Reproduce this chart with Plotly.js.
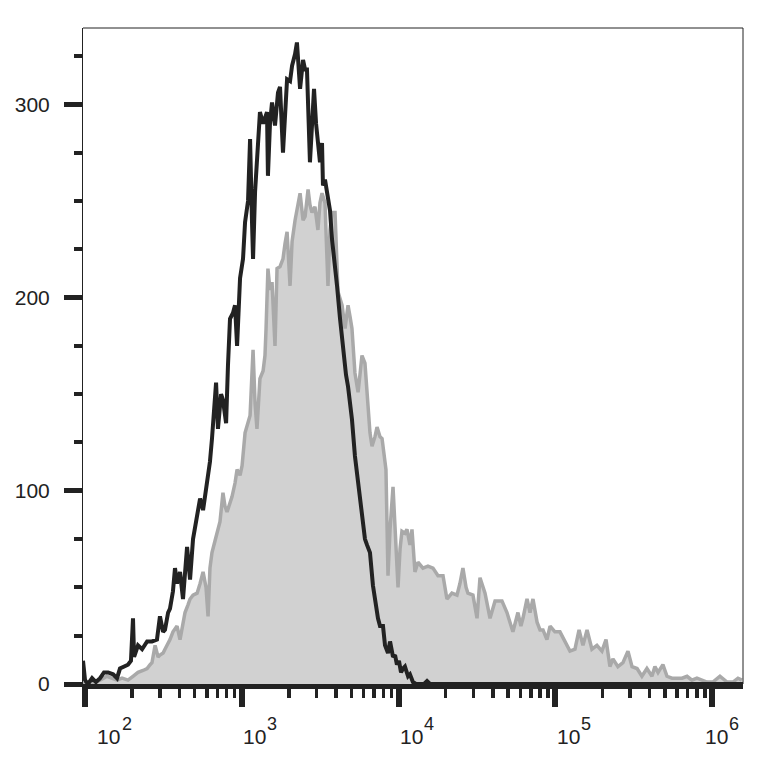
<!DOCTYPE html>
<html>
<head>
<meta charset="utf-8">
<script src="https://cdn.plot.ly/plotly-3.0.1.min.js"></script>
<style>
  html, body { margin: 0; padding: 0; background: #ffffff; }
  #chart { width: 779px; height: 773px; }
</style>
</head>
<body>
<div id="chart"></div>
<script>
// ---- Data (log10 of fluorescence intensity, and event counts) ----
const stainedLogX = [1.987,2.000,2.019,2.045,2.070,2.096,2.121,2.147,2.179,2.204,2.223,2.249,2.274,2.293,2.306,2.313,2.338,2.364,2.396,2.427,2.459,2.478,2.498,2.510,2.530,2.542,2.561,2.574,2.587,2.606,2.625,2.651,2.670,2.689,2.702,2.721,2.734,2.753,2.778,2.797,2.810,2.823,2.836,2.848,2.868,2.880,2.900,2.912,2.925,2.944,2.957,2.970,2.989,3.008,3.021,3.040,3.053,3.065,3.072,3.085,3.097,3.116,3.136,3.161,3.167,3.180,3.193,3.212,3.231,3.244,3.263,3.276,3.289,3.308,3.321,3.340,3.352,3.372,3.391,3.404,3.416,3.435,3.448,3.461,3.474,3.486,3.499,3.512,3.518,3.531,3.550,3.563,3.576,3.595,3.608,3.627,3.646,3.665,3.678,3.691,3.703,3.722,3.742,3.754,3.767,3.786,3.799,3.818,3.837,3.856,3.869,3.882,3.901,3.914,3.933,3.946,3.965,3.978,3.990,4.003,4.016,4.029,4.041,4.061,4.073,4.092,4.112,4.137,4.163,4.182,4.201,6.198];
const stainedCount = [12,2,0,3,1,3,6,6,5,3,8,9,10,12,34,14,20,18,22,22,23,35,27,28,37,39,48,60,52,58,44,71,54,75,82,90,96,90,104,115,127,140,156,132,150,147,135,165,189,192,196,175,210,220,239,250,282,240,220,255,270,296,290,296,263,290,301,289,306,309,275,300,313,312,320,326,332,308,323,318,318,270,290,308,290,282,270,280,258,261,250,245,230,218,206,189,172,160,154,146,137,118,104,95,85,75,72,68,51,40,34,30,30,20,16,22,14,15,10,12,6,8,9,4,5,1,0,0,0,1.5,0,0];

const controlLogX = [1.987,2.032,2.064,2.096,2.140,2.172,2.204,2.236,2.274,2.306,2.338,2.370,2.396,2.415,2.427,2.447,2.466,2.478,2.498,2.510,2.530,2.542,2.561,2.587,2.606,2.625,2.638,2.657,2.670,2.689,2.715,2.734,2.753,2.772,2.785,2.797,2.810,2.829,2.842,2.861,2.880,2.893,2.906,2.925,2.938,2.957,2.970,2.989,3.002,3.021,3.040,3.053,3.072,3.085,3.097,3.116,3.136,3.148,3.155,3.167,3.180,3.193,3.212,3.225,3.244,3.263,3.276,3.289,3.308,3.321,3.340,3.359,3.372,3.391,3.404,3.423,3.435,3.448,3.467,3.486,3.499,3.512,3.531,3.550,3.563,3.576,3.595,3.614,3.627,3.640,3.659,3.678,3.691,3.703,3.722,3.742,3.754,3.767,3.786,3.805,3.818,3.831,3.850,3.863,3.882,3.895,3.914,3.920,3.933,3.946,3.965,3.984,3.997,4.010,4.022,4.041,4.054,4.073,4.086,4.105,4.124,4.156,4.188,4.220,4.252,4.284,4.309,4.341,4.373,4.392,4.411,4.431,4.443,4.475,4.501,4.520,4.552,4.584,4.616,4.660,4.692,4.711,4.730,4.762,4.781,4.794,4.820,4.839,4.858,4.884,4.903,4.922,4.947,4.967,4.998,5.030,5.062,5.094,5.126,5.152,5.177,5.203,5.234,5.266,5.298,5.324,5.349,5.368,5.400,5.432,5.464,5.490,5.522,5.553,5.585,5.617,5.636,5.656,5.687,5.713,5.745,5.777,5.809,5.841,5.872,5.904,5.936,5.968,6.006,6.051,6.096,6.134,6.166,6.191];
const controlCount = [0,1,1,2,4,3,2,3,2,4,6,7,8,10,11,20,14,15,16,18,21,23,27,30,23,33,37,41,44,46,47,52,58,50,35,60,68,74,78,84,99,92,89,94,97,104,111,108,113,130,135,139,173,145,132,158,162,170,184,215,204,208,175,215,216,220,228,234,206,229,240,248,254,240,242,256,248,244,247,235,249,254,249,206,235,244,244,203,200,196,184,196,190,184,161,151,160,170,166,146,130,123,128,133,128,127,113,111,56,80,102,70,50,70,79,78,80,72,80,58,63,60,61,60,56,56,44,47,46,52,60,50,47,46,34,55,47,34,43,43,37,32,27,37,30,34,44,37,44,32,28,28,23,30,27,27,22,17,18,28,20,28,18,20,17,23,9,13,9,11,17,9,8,4,8,4,9,6,10,4,3,3,3,4,2,3,2,1,1,4,1,1,3,2];

const yTickValues = [0, 100, 200, 300];
const yTickLabels = ['0', '100', '200', '300'];
const xDecades = [2, 3, 4, 5, 6];
const xDecadeBase = '10';
const xDecadeExponents = ['2', '3', '4', '5', '6'];

// ---- Styling / layout helpers (not data) ----
const baseNudgePx = [23.5, 12.5, 12.5, 13, 4.5];
const expGapPx = 18;
const FONT = 'Liberation Sans, Arial, sans-serif';
const INK = '#222222';

const toLinear = arr => arr.map(v => Math.pow(10, v));

const traces = [
  {
    type: 'scatter', mode: 'lines',
    x: toLinear(controlLogX), y: controlCount,
    fill: 'tozeroy', fillcolor: '#d1d1d1',
    line: { color: '#a9a9a9', width: 3.5, shape: 'linear' },
    hoverinfo: 'skip'
  },
  {
    type: 'scatter', mode: 'lines',
    x: toLinear(stainedLogX), y: stainedCount,
    line: { color: INK, width: 4, shape: 'linear' },
    hoverinfo: 'skip'
  }
];

const annotations = [];
xDecades.forEach((d, i) => {
  annotations.push({
    xref: 'x', yref: 'paper', x: d, y: 0,
    xanchor: 'center', yanchor: 'middle',
    xshift: baseNudgePx[i], yshift: -52,
    text: xDecadeBase, showarrow: false,
    font: { family: FONT, size: 21, color: INK }
  });
  annotations.push({
    xref: 'x', yref: 'paper', x: d, y: 0,
    xanchor: 'center', yanchor: 'middle',
    xshift: baseNudgePx[i] + expGapPx, yshift: -40,
    text: xDecadeExponents[i], showarrow: false,
    font: { family: FONT, size: 18, color: INK }
  });
});

const layout = {
  width: 779, height: 773,
  margin: { l: 83, r: 36, t: 28, b: 89, pad: 0 },
  paper_bgcolor: '#ffffff', plot_bgcolor: '#ffffff',
  showlegend: false,
  xaxis: {
    type: 'log',
    range: [1.987, 6.198],
    tickmode: 'array',
    tickvals: xDecades.map(d => Math.pow(10, d)),
    showticklabels: false,
    ticks: 'outside', ticklen: 18, tickwidth: 6, tickcolor: INK,
    minor: { ticks: 'outside', ticklen: 9, tickwidth: 3.5, tickcolor: INK, dtick: 'D1', showgrid: false },
    showline: true, linewidth: 5, linecolor: INK,
    showgrid: false, zeroline: false, fixedrange: true
  },
  yaxis: {
    range: [0, 339.5],
    tickmode: 'array',
    tickvals: yTickValues, ticktext: yTickLabels,
    ticks: 'outside', ticklen: 18, tickwidth: 5, tickcolor: INK,
    minor: { ticks: 'outside', ticklen: 8, tickwidth: 4, tickcolor: INK, dtick: 25, tick0: 0, showgrid: false },
    tickfont: { family: FONT, size: 21, color: INK },
    ticklabelstandoff: 10,
    showline: true, linewidth: 1, linecolor: INK,
    showgrid: false, zeroline: false, fixedrange: true
  },
  shapes: [
    { type: 'line', xref: 'paper', yref: 'paper', x0: 0, x1: 1, y0: 1, y1: 1, line: { color: INK, width: 1 } },
    { type: 'line', xref: 'paper', yref: 'paper', x0: 1, x1: 1, y0: 0, y1: 1, line: { color: INK, width: 1 } }
  ],
  annotations: annotations
};

Plotly.newPlot('chart', traces, layout, { staticPlot: true, displayModeBar: false });
</script>
</body>
</html>
